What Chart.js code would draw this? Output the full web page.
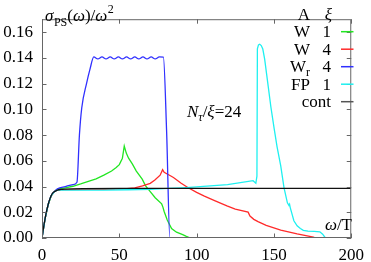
<!DOCTYPE html>
<html>
<head>
<meta charset="utf-8">
<script src="https://cdn.jsdelivr.net/npm/chart.js@4/dist/chart.umd.min.js"></script>
<style>
  html, body { margin: 0; padding: 0; background: #fff; }
  canvas { display: block; }
</style>
</head>
<body>
<canvas id="c" width="371" height="262"></canvas>
<script>
/* valores: sigma_PS(w)/w^2 contra w/T */
var xTicks = [0, 50, 100, 150, 200];
var yTicks = [0, 0.02, 0.04, 0.06, 0.08, 0.10, 0.12, 0.14, 0.16];

var contX = [0, 1, 2, 3, 4, 5, 6, 7, 8, 10, 12, 15, 20, 50, 100, 150, 200];
var contY = [0, 0.008, 0.015, 0.021, 0.026, 0.030, 0.033, 0.035, 0.036, 0.0372, 0.0377, 0.038, 0.0382, 0.0385, 0.0385, 0.0385, 0.0385];

var w1X = [0, 2, 4, 6, 8, 10, 15, 20, 25, 30, 35, 40, 45, 48, 50, 52, 53.2, 54.5, 56, 58.4, 61, 64.8, 67, 70, 73.2, 77.4, 78.2, 79, 81, 83.8, 87, 91, 93, 96];
var w1Y = [0, 0.015, 0.026, 0.033, 0.036, 0.0378, 0.039, 0.0402, 0.042, 0.044, 0.046, 0.0488, 0.052, 0.0548, 0.057, 0.062, 0.0715, 0.066, 0.062, 0.0576, 0.052, 0.0457, 0.0405, 0.036, 0.0313, 0.0265, 0.024, 0.0206, 0.014, 0.0074, 0.0045, 0.0026, 0.0014, 0];

var w4X = [0, 2, 4, 6, 8, 10, 20, 30, 40, 50, 55, 60, 65, 70, 73, 76.4, 78, 79, 81.6, 85, 90, 94.3, 100, 105, 112, 119.6, 125, 133.3, 134.5, 137, 139.7, 145, 154.4, 165, 175.5, 177];
var w4Y = [0, 0.015, 0.026, 0.033, 0.036, 0.0374, 0.0377, 0.0378, 0.0378, 0.038, 0.0383, 0.039, 0.0405, 0.0425, 0.045, 0.0488, 0.0531, 0.051, 0.0493, 0.047, 0.0425, 0.0392, 0.0355, 0.0325, 0.0289, 0.0249, 0.0225, 0.0201, 0.017, 0.0145, 0.0127, 0.0098, 0.0062, 0.0032, 0.0007, 0];

var wrX = [0, 2, 4, 6, 8, 10, 15, 20, 22.6, 24.2, 25.7, 28.9, 31, 33.5, 36.1, 38.8, 41.4, 44.1, 46.7, 49.4, 52.0, 54.7, 57.3, 60.0, 62.6, 65.3, 67.9, 70.6, 73.2, 75.9, 78.5, 80.6, 82.7, 90];
var wrY = [0, 0.015, 0.026, 0.033, 0.036, 0.0382, 0.040, 0.0415, 0.0433, 0.080, 0.101, 0.1205, 0.131, 0.1407, 0.1391, 0.1407, 0.1391, 0.1407, 0.1391, 0.1407, 0.1391, 0.1407, 0.1391, 0.1407, 0.1391, 0.1407, 0.1391, 0.1407, 0.1391, 0.1407, 0.1405, 0.0825, 0, 0];

var fpX = [0, 2, 4, 6, 8, 10, 20, 40, 56, 70, 81.6, 91, 100, 120, 136.5, 138.3, 139.0, 139.3, 140.0, 140.8, 141.8, 142.8, 144, 146, 148, 150.2, 152, 154.4, 156.5, 158.7, 159.7, 160.1, 160.5, 162.9, 165, 167.1, 169, 172, 176, 179.7, 181.5, 183.3];
var fpY = [0, 0.015, 0.026, 0.033, 0.036, 0.0372, 0.0372, 0.0372, 0.0375, 0.0378, 0.0385, 0.039, 0.0397, 0.0415, 0.0445, 0.0425, 0.048, 0.147, 0.150, 0.1505, 0.1495, 0.1468, 0.139, 0.1205, 0.102, 0.0846, 0.071, 0.056, 0.0392, 0.0273, 0.0253, 0.0262, 0.0238, 0.0134, 0.0095, 0.0074, 0.006, 0.0053, 0.0052, 0.0048, 0.003, 0];

var COLORS = { w1: '#22e622', w4: '#ff2a2a', wr: '#3030ff', fp: '#1ef0f0', cont: '#111111' };
var FRAME = '#666';
var SERIF = '"Liberation Serif", "DejaVu Serif", serif';

function pts(xs, ys) {
  return xs.map(function (x, i) { return { x: x, y: ys[i] }; });
}

/* escribir un texto compuesto por trozos (fuente, desplazamiento vertical) */
function runs(ctx, x, y, parts, align) {
  var total = 0;
  parts.forEach(function (p) { ctx.font = p.f; total += ctx.measureText(p.t).width + (p.gap || 0); });
  if (align === 'right') x -= total;
  ctx.textAlign = 'left';
  ctx.textBaseline = 'alphabetic';
  parts.forEach(function (p) {
    ctx.font = p.f;
    ctx.fillText(p.t, x, y + (p.dy || 0));
    x += ctx.measureText(p.t).width + (p.gap || 0);
  });
}

var deco = {
  id: 'deco',
  afterDraw: function (chart) {
    var ctx = chart.ctx, a = chart.chartArea;
    var xs = chart.scales.x, ys = chart.scales.y;
    ctx.save();
    // marco y ticks hacia dentro
    ctx.strokeStyle = FRAME;
    ctx.lineWidth = 1;
    ctx.strokeRect(a.left + 0.5, a.top + 0.5, a.right - a.left - 1, a.bottom - a.top - 1);
    ctx.beginPath();
    xTicks.forEach(function (v) {
      var px = Math.round(xs.getPixelForValue(v)) + 0.5;
      ctx.moveTo(px, a.bottom); ctx.lineTo(px, a.bottom - 4.5);
      ctx.moveTo(px, a.top); ctx.lineTo(px, a.top + 4.5);
    });
    yTicks.forEach(function (v) {
      var py = Math.round(ys.getPixelForValue(v)) + 0.5;
      ctx.moveTo(a.left, py); ctx.lineTo(a.left + 4.5, py);
      ctx.moveTo(a.right, py); ctx.lineTo(a.right - 4.5, py);
    });
    ctx.stroke();

    ctx.fillStyle = '#000';
    var R = '17px ' + SERIF, I = 'italic 17px ' + SERIF;
    var Rs = '12px ' + SERIF, Is = 'italic 12px ' + SERIF;

    // titulo del eje y
    runs(ctx, 45, 21, [
      { t: '\u03c3', f: I, gap: 0.5 },
      { t: 'PS', f: Rs, dy: 5 },
      { t: '(', f: R }, { t: '\u03c9', f: I }, { t: ')/', f: R },
      { t: '\u03c9', f: I, gap: 0.5 },
      { t: '2', f: Rs, dy: -8 }
    ]);

    // N_tau / xi = 24
    runs(ctx, 187, 117, [
      { t: 'N', f: I },
      { t: '\u03c4', f: Is, dy: 4 },
      { t: '/', f: R }, { t: '\u03be', f: I }, { t: '=24', f: R }
    ]);

    // omega / T
    runs(ctx, 352, 230, [{ t: '\u03c9', f: I }, { t: '/T', f: R }], 'right');

    // leyenda
    var rowsY = [31.7, 49.2, 66.7, 84.2, 101.7];
    var names = [['W'], ['W'], ['W', 'r'], ['FP'], null];
    var xis = ['1', '4', '4', '1', null];
    var cols = [COLORS.w1, COLORS.w4, COLORS.wr, COLORS.fp, '#555'];
    runs(ctx, 310, 20, [{ t: 'A', f: R }], 'right');
    runs(ctx, 332, 20, [{ t: '\u03be', f: I }], 'right');
    rowsY.forEach(function (cy, i) {
      var base = cy + 5.5;
      if (names[i]) {
        var parts = [{ t: names[i][0], f: R }];
        if (names[i][1]) parts.push({ t: names[i][1], f: Rs, dy: 4 });
        runs(ctx, 310, base, parts, 'right');
        runs(ctx, 331, base, [{ t: xis[i], f: R }], 'right');
      } else {
        runs(ctx, 331, base, [{ t: 'cont', f: R }], 'right');
      }
      ctx.strokeStyle = cols[i];
      ctx.lineWidth = 1.5;
      ctx.beginPath();
      ctx.moveTo(341, cy); ctx.lineTo(353.5, cy);
      ctx.stroke();
    });
    ctx.restore();
  }
};

function ds(xs, ys, color, order, mono) {
  return {
    data: pts(xs, ys),
    borderColor: color,
    borderWidth: 1.3,
    pointRadius: 0,
    fill: false,
    order: order,
    cubicInterpolationMode: mono ? 'monotone' : 'default',
    tension: 0
  };
}

new Chart(document.getElementById('c'), {
  type: 'line',
  data: {
    datasets: [
      ds(w1X, w1Y, COLORS.w1, 4, false),
      ds(w4X, w4Y, COLORS.w4, 3, false),
      ds(wrX, wrY, COLORS.wr, 2, true),
      ds(fpX, fpY, COLORS.fp, 1, false),
      ds(contX, contY, COLORS.cont, 0, true)
    ]
  },
  options: {
    responsive: false,
    animation: false,
    devicePixelRatio: 1,
    layout: { padding: { top: 1, right: 14, left: 0, bottom: 0 } },
    plugins: { legend: { display: false }, tooltip: { enabled: false } },
    scales: {
      x: {
        type: 'linear', min: 0, max: 200,
        grid: { display: false, drawTicks: false },
        border: { display: false },
        afterFit: function (s) { s.height = 24; },
        ticks: {
          stepSize: 50, padding: 7, maxRotation: 0, includeBounds: false,
          color: '#000', font: { family: SERIF, size: 17 }
        }
      },
      y: {
        type: 'linear', min: 0, max: 0.17,
        grid: { display: false, drawTicks: false },
        border: { display: false },
        afterFit: function (s) { s.width = 42; },
        ticks: {
          stepSize: 0.02, padding: 9, includeBounds: false,
          color: '#000', font: { family: SERIF, size: 17 },
          callback: function (v) { return v.toFixed(2); }
        }
      }
    }
  },
  plugins: [deco]
});
</script>
</body>
</html>
